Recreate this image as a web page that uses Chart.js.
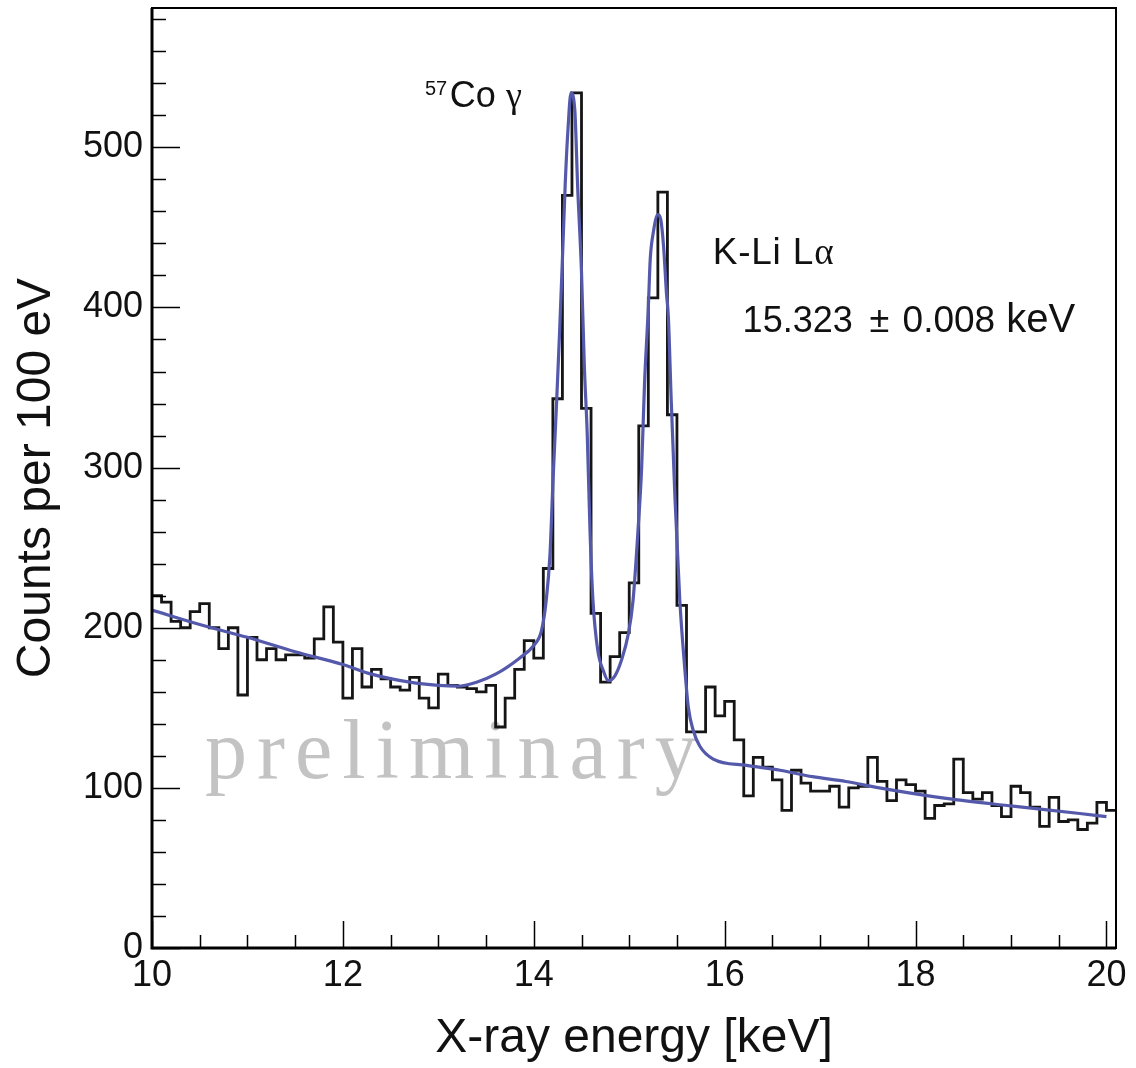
<!DOCTYPE html>
<html>
<head>
<meta charset="utf-8">
<script src="https://cdn.jsdelivr.net/npm/chart.js@4.4.1/dist/chart.umd.min.js"></script>
<style>
  html, body { margin: 0; padding: 0; background: #fff; }
</style>
</head>
<body>
<canvas id="spectrum" width="1136" height="1068"></canvas>
<script>
// histogram: 100 eV bins starting at 10.0 keV
var binLow = 10.0;
var binWidth = 0.1;
var counts = [
  220, 216, 204, 200, 210, 215, 200, 187, 200, 158,
  194, 180, 187, 180, 183, 183, 181, 193, 213, 191,
  156, 187, 163, 174, 168, 163, 161, 169, 156, 150,
  171, 164, 163, 162, 160, 164, 138, 156, 174, 192,
  181, 237, 343, 470, 534, 337, 209, 166, 182, 197,
  228, 326, 406, 472, 333, 214, 135, 135, 163, 145,
  154, 130, 95, 119, 113, 105, 86, 111, 103, 98,
  98, 101, 88, 100, 101, 119, 104, 92, 105, 102,
  98, 81, 89, 90, 118, 97, 93, 97, 89, 82,
  101, 97, 88, 76, 94, 79, 80, 74, 78, 91,
  86
];

// fitted curve
var fitEnergy = [10.0, 10.5, 11.0, 11.5, 12.0, 12.3, 12.7, 13.0, 13.2, 13.4,
  13.6, 13.85, 14.0, 14.08, 14.13, 14.17, 14.2, 14.24, 14.27, 14.3,
  14.33, 14.36, 14.39, 14.43, 14.46, 14.5, 14.53, 14.56, 14.59, 14.62,
  14.67, 14.73, 14.78, 14.85, 14.92, 14.99, 15.04, 15.09, 15.13, 15.16,
  15.2, 15.22, 15.25, 15.3, 15.33, 15.36, 15.39, 15.41, 15.44, 15.48,
  15.53, 15.58, 15.62, 15.67, 15.74, 15.88, 16.23, 16.58, 16.92, 17.27,
  17.62, 18.32, 19.02, 19.72, 20.0];
var fitCounts = [211, 202, 194, 185, 177, 171, 166, 164, 163.5, 166,
  171, 181, 189, 198, 217, 246, 290, 342, 384, 430,
  478, 513, 534, 523, 475, 422, 363, 321, 259, 217,
  186, 173, 167, 170, 180, 196, 217, 259, 300, 352,
  400, 430, 446, 458, 455, 438, 409, 394, 342, 280,
  217, 176, 150, 136, 126, 118, 114, 111, 107, 104,
  100, 93.4, 88.6, 84, 82];

var xLabels = [10, 12, 14, 16, 18, 20];
var yLabels = [0, 100, 200, 300, 400, 500];

var histPoints = [];
counts.forEach(function(c, i) {
    histPoints.push({x: binLow + i * binWidth, y: c});
});
histPoints.push({x: binLow + counts.length * binWidth, y: counts[counts.length - 1]});

var fitPoints = [];
fitEnergy.forEach(function(e, i) {
    fitPoints.push({x: e, y: fitCounts[i]});
});

function near(v, list) {
    for (var i = 0; i < list.length; i++) {
        if (Math.abs(v - list[i]) < 1e-6) return true;
    }
    return false;
}

// draws text char by char with extra spacing, returns end x
function spaced(ctx, text, x, y, gap) {
    for (var i = 0; i < text.length; i++) {
        ctx.fillText(text[i], x, y);
        x += ctx.measureText(text[i]).width + gap;
    }
    return x - gap;
}

// frame, inward ticks and the text labels
var decorations = {
    id: 'decorations',
    beforeDatasetsDraw: function(chart) {
        var ctx = chart.ctx, xs = chart.scales.x, ys = chart.scales.y;
        ctx.save();
        ctx.fillStyle = '#c3c3c3';
        ctx.font = '84px "Liberation Serif"';
        ctx.textBaseline = 'alphabetic';
        spaced(ctx, 'preliminary', xs.getPixelForValue(10.555), ys.getPixelForValue(106), 10);
        ctx.restore();
    },
    afterDatasetsDraw: function(chart) {
        var ctx = chart.ctx, a = chart.chartArea, xs = chart.scales.x, ys = chart.scales.y;
        ctx.save();
        ctx.strokeStyle = '#000';
        ctx.lineWidth = 1.5;
        xs.ticks.forEach(function(t) {
            var x = Math.round(xs.getPixelForValue(t.value)) + 0.5;
            var len = near(t.value, xLabels) ? 27 : 13;
            ctx.beginPath();
            ctx.moveTo(x, a.bottom);
            ctx.lineTo(x, a.bottom - len);
            ctx.stroke();
        });
        ys.ticks.forEach(function(t) {
            var y = Math.round(ys.getPixelForValue(t.value)) + 0.5;
            var len = near(t.value, yLabels) ? 28 : 14;
            ctx.beginPath();
            ctx.moveTo(a.left, y);
            ctx.lineTo(a.left + len, y);
            ctx.stroke();
        });
        ctx.lineWidth = 2;
        ctx.strokeRect(a.left, a.top, a.right - a.left, a.bottom - a.top);
        ctx.lineWidth = 3;
        ctx.beginPath();
        ctx.moveTo(a.left, a.top);
        ctx.lineTo(a.left, a.bottom);
        ctx.lineTo(a.right, a.bottom);
        ctx.stroke();

        ctx.fillStyle = '#111';
        ctx.textBaseline = 'alphabetic';
        ctx.font = '20px "Liberation Sans"';
        ctx.fillText('57', xs.getPixelForValue(12.859), ys.getPixelForValue(532.5));
        ctx.font = '36px "Liberation Sans"';
        ctx.fillText('Co', xs.getPixelForValue(13.12), ys.getPixelForValue(525));
        ctx.font = '36px "Liberation Serif"';
        ctx.fillText('\u03b3', xs.getPixelForValue(13.71), ys.getPixelForValue(525));

        ctx.font = '37px "Liberation Sans"';
        var ky = ys.getPixelForValue(427.4);
        var kEnd = spaced(ctx, 'K-Li L', xs.getPixelForValue(15.874), ky, 0.8);
        ctx.font = '37px "Liberation Serif"';
        ctx.fillText('\u03b1', kEnd + 1, ky);

        var vy = ys.getPixelForValue(384.7);
        ctx.font = '36px "Liberation Sans"';
        ctx.fillText('15.323', xs.getPixelForValue(16.188), vy);
        ctx.fillText('\u00b1', xs.getPixelForValue(17.518), vy);
        ctx.font = '37px "Liberation Sans"';
        ctx.fillText('0.008', xs.getPixelForValue(17.864), vy);
        ctx.font = '40px "Liberation Sans"';
        ctx.fillText('keV', xs.getPixelForValue(18.95), vy);
        ctx.restore();
    }
};

var ctx = document.getElementById('spectrum');
var chart = new Chart(ctx, {
    type: 'line',
    data: {
        datasets: [
            { label: 'fit', data: fitPoints, order: 0, borderColor: '#5559ab', borderWidth: 3.2,
              pointRadius: 0, fill: false, cubicInterpolationMode: 'monotone' },
            { label: 'data', data: histPoints, order: 1, stepped: 'before', borderColor: '#151515',
              borderWidth: 2.8, pointRadius: 0, fill: false }
        ]
    },
    options: {
        responsive: false,
        animation: false,
        devicePixelRatio: 1,
        layout: { padding: { top: 8, right: 20, left: 0, bottom: 0 } },
        plugins: { legend: { display: false }, tooltip: { enabled: false } },
        scales: {
            x: {
                type: 'linear',
                min: 10,
                max: 20.1,
                afterFit: function(scale) { scale.height = 120; },
                grid: { display: false, drawTicks: false },
                border: { display: false },
                ticks: {
                    stepSize: 0.5,
                    includeBounds: false,
                    autoSkip: false,
                    maxRotation: 0,
                    padding: 6,
                    color: '#111',
                    font: { family: 'Liberation Sans', size: 36 },
                    callback: function(v) { return near(v, xLabels) ? String(Math.round(v)) : ''; }
                },
                title: {
                    display: true,
                    text: 'X-ray energy [keV]',
                    color: '#111',
                    font: { family: 'Liberation Sans', size: 48 },
                    padding: { top: 0, bottom: 0 }
                }
            },
            y: {
                min: 0,
                max: 587,
                afterFit: function(scale) {
                    scale.width = 152;
                    scale.paddingTop = 0;
                    scale.paddingBottom = 0;
                },
                grid: { display: false, drawTicks: false },
                border: { display: false },
                ticks: {
                    stepSize: 20,
                    includeBounds: false,
                    autoSkip: false,
                    padding: 9,
                    color: '#111',
                    font: { family: 'Liberation Sans', size: 36 },
                    callback: function(v) { return near(v, yLabels) ? String(v) : ''; }
                },
                title: {
                    display: true,
                    text: 'Counts per 100 eV',
                    color: '#111',
                    font: { family: 'Liberation Sans', size: 48 },
                    padding: { top: 8, bottom: 0 }
                }
            }
        }
    },
    plugins: [decorations]
});
</script>
</body>
</html>
